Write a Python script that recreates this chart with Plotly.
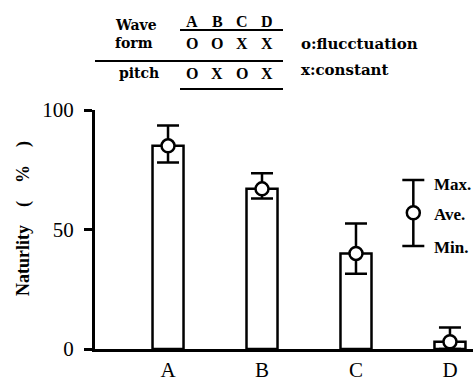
import plotly.graph_objects as go

# Naturality scores per stimulus condition
conditions = ["A", "B", "C", "D"]
ave_vals = [85, 67, 40, 3]
max_vals = [93.5, 73.5, 52.5, 9]
min_vals = [78, 63, 31.5, 0]

# Stimulus description table
wave_form = ["O", "O", "X", "X"]
pitch = ["O", "X", "O", "X"]

W, H = 473, 381
L, R, T, B = 95, 0, 110, 32
PW, PH = W - L - R, H - T - B
FONT = "Liberation Serif"
TFONT = "DejaVu Serif"


def px(xp):
    return (xp - L) / PW


def py(yp):
    return (H - B - yp) / PH


xi = list(range(len(conditions)))

fig = go.Figure()
fig.add_trace(go.Bar(
    x=xi, y=ave_vals, width=0.33,
    marker=dict(color="white", line=dict(color="black", width=2.5)),
    hoverinfo="skip",
))
fig.add_trace(go.Scatter(
    x=xi, y=ave_vals, mode="markers",
    marker=dict(symbol="circle", size=13, color="white",
                line=dict(color="black", width=2.5)),
    error_y=dict(type="data", symmetric=False,
                 array=[mx - a for mx, a in zip(max_vals, ave_vals)],
                 arrayminus=[a - mn for a, mn in zip(ave_vals, min_vals)],
                 color="black", thickness=2.5, width=11),
))

# Key glyph for the error bars
fig.add_trace(go.Scatter(
    x=[2.61], y=[57], mode="markers",
    marker=dict(symbol="circle", size=13, color="white",
                line=dict(color="black", width=2.5)),
    error_y=dict(type="data", symmetric=False, array=[13.7], arrayminus=[13.9],
                 color="black", thickness=2.5, width=11),
    cliponaxis=False,
))

fig.update_layout(
    width=W, height=H,
    margin=dict(l=L, r=R, t=T, b=B),
    paper_bgcolor="white", plot_bgcolor="white",
    showlegend=False,
    font=dict(family=FONT, color="black"),
    xaxis=dict(range=[-0.777, 3.245], tickvals=xi, ticktext=conditions,
               showgrid=False, zeroline=False, showline=True,
               linecolor="black", linewidth=3, ticks="",
               tickfont=dict(size=21, family=FONT)),
    yaxis=dict(range=[0, 100], tickvals=[0, 50, 100],
               showgrid=False, zeroline=False, showline=True,
               linecolor="black", linewidth=3,
               ticks="outside", ticklen=8, tickwidth=2.5, tickcolor="black",
               ticklabelstandoff=6,
               tickfont=dict(size=21, family=FONT)),
)

sp = "&nbsp;" * 4
ann = [dict(x=px(23), y=py(219), xref="paper", yref="paper",
            text=f"<b>Naturlity{sp}({sp}%{sp})</b>", textangle=-90,
            showarrow=False, xanchor="center", yanchor="middle",
            font=dict(size=18, family=FONT))]

for txt, y in [("Max.", 184), ("Ave.", 214), ("Min.", 247)]:
    ann.append(dict(x=px(432), y=py(y), xref="paper", yref="paper",
                    text=f"<b>{txt}</b>", showarrow=False, xanchor="left",
                    yanchor="middle", font=dict(size=17, family=FONT)))

# Table header and rows
col_x = [192, 217, 242, 267]
for txt, x, y in [("Wave", 113, 25), ("form", 113, 43), ("pitch", 117, 73)]:
    ann.append(dict(x=px(x), y=py(y), xref="paper", yref="paper",
                    text=f"<b>{txt}</b>", showarrow=False, xanchor="left",
                    yanchor="middle", font=dict(size=14, family=TFONT)))
for cx, c, wf, p in zip(col_x, conditions, wave_form, pitch):
    for txt, y in [(c, 22), (wf, 43), (p, 73)]:
        ann.append(dict(x=px(cx), y=py(y), xref="paper", yref="paper",
                        text=f"<b>{txt}</b>", showarrow=False,
                        xanchor="center", yanchor="middle",
                        font=dict(size=16, family=FONT)))
ann.append(dict(x=px(299), y=py(44), xref="paper", yref="paper",
                text="<b>o:flucctuation</b>", showarrow=False, xanchor="left",
                yanchor="middle", font=dict(size=15, family=TFONT)))
ann.append(dict(x=px(299), y=py(70), xref="paper", yref="paper",
                text="<b>x:constant</b>", showarrow=False, xanchor="left",
                yanchor="middle", font=dict(size=15, family=TFONT)))
fig.update_layout(annotations=ann)

shapes = []
for x0, x1, y in [(180, 283, 30), (95, 283, 61), (180, 283, 89)]:
    shapes.append(dict(type="line", xref="paper", yref="paper",
                       x0=px(x0), x1=px(x1), y0=py(y), y1=py(y),
                       line=dict(color="black", width=2)))
fig.update_layout(shapes=shapes)

fig.write_html("out.html")
